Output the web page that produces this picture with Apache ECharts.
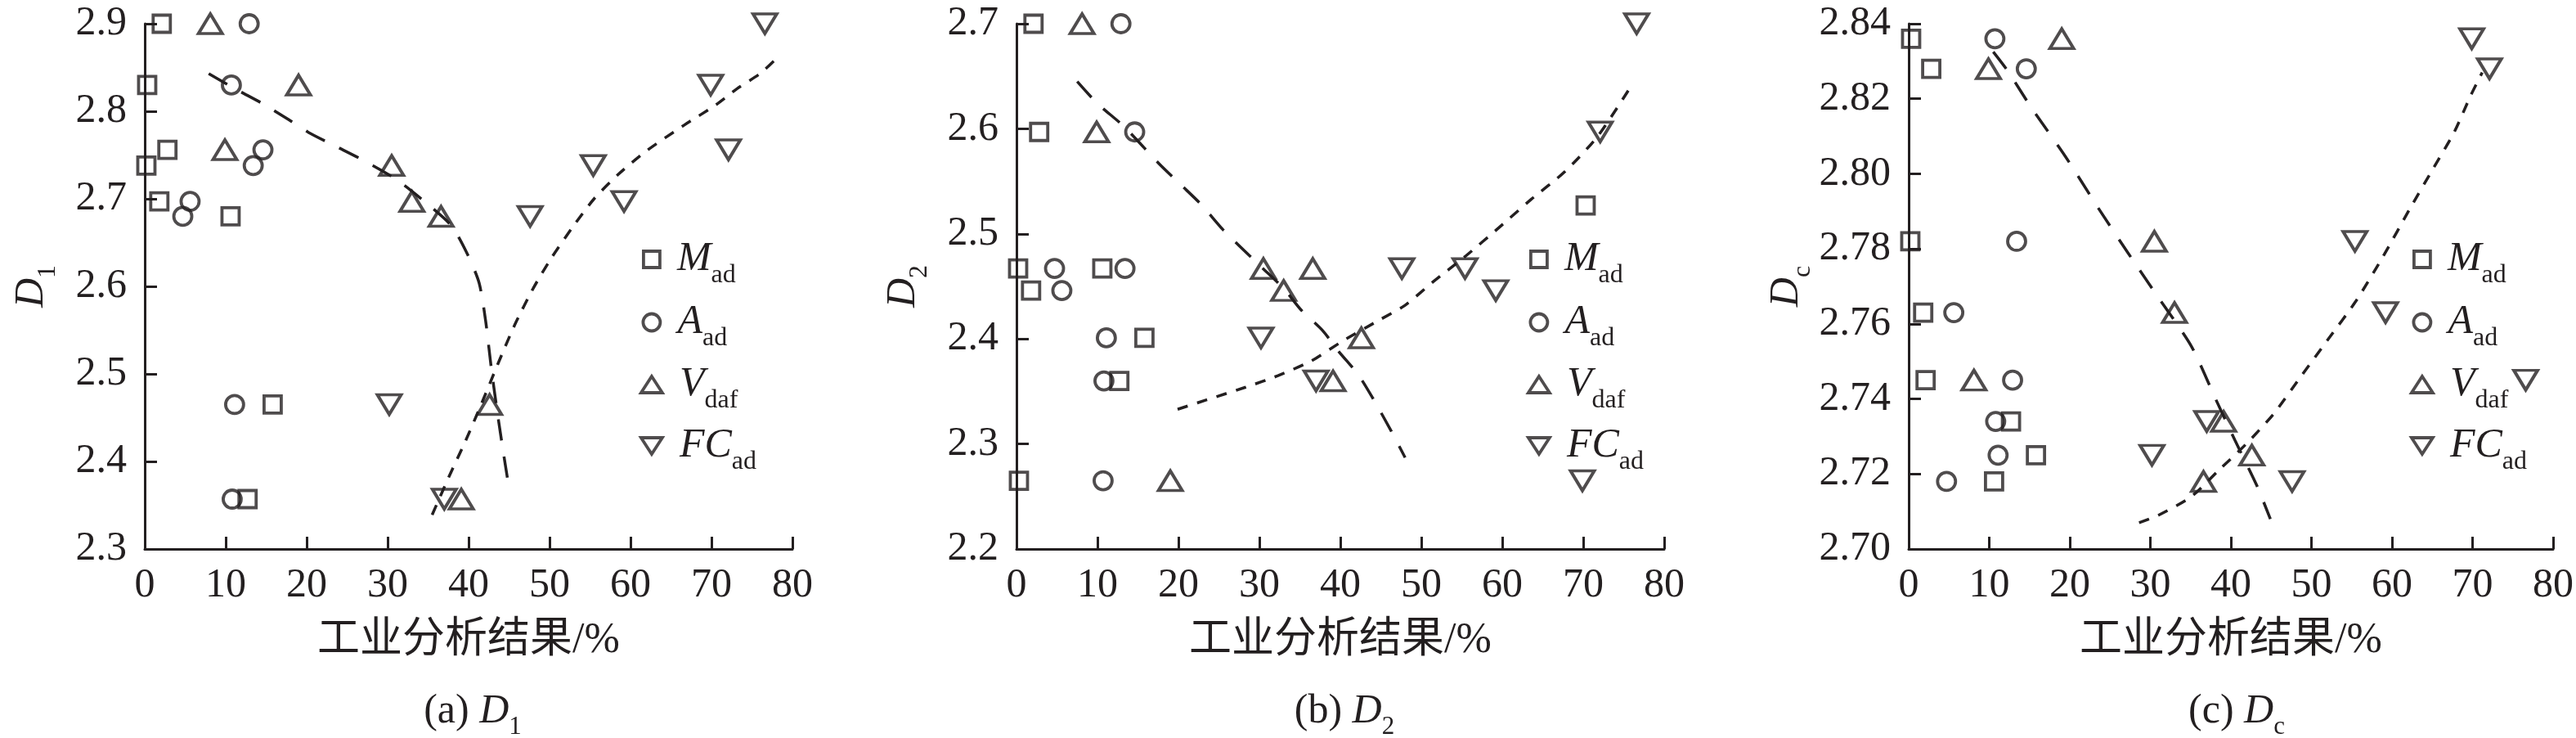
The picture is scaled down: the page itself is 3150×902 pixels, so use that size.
<!DOCTYPE html>
<html>
<head>
<meta charset="utf-8">
<title>D vs proximate analysis</title>
<script src="https://cdn.jsdelivr.net/npm/echarts@6/dist/echarts.min.js"></script>
<style>
  html, body { margin: 0; padding: 0; background: #fff; }
  #chart { width: 3150px; height: 902px; }
</style>
</head>
<body>
<div id="chart"></div>
<script>
// proximate analysis of the 8 coal samples (%)
const xMad  = [2.1, 0.3, 2.8, 0.2, 1.8, 10.6, 15.8, 12.7];
const xAad  = [12.9, 10.7, 14.6, 13.4, 5.6, 4.7, 11.1, 10.8];
const xVdaf = [8.1, 19.0, 9.9, 30.5, 33.0, 36.6, 42.6, 39.1];
const xFCad = [76.6, 69.9, 72.1, 55.4, 59.2, 47.6, 30.2, 37.0];

// fractal dimensions of the same samples
const D1 = [2.900, 2.830, 2.756, 2.738, 2.697, 2.680, 2.465, 2.357];
const D2 = [2.700, 2.265, 2.597, 2.467, 2.446, 2.467, 2.401, 2.360];
const Dc = [2.745, 2.836, 2.828, 2.782, 2.763, 2.718, 2.725, 2.734];

// stray square marker in panel (b)
const extraMadX = [70.3];
const extraMadD2 = [2.527];

// trend lines
const fitA_V_x  = [7.9, 11.3, 14.7, 17.5, 20.2, 23.6, 27.0, 31.1, 34.8, 37.9, 39.9, 41.3, 42.1, 42.8, 43.6, 44.3, 44.9];
const fitA_V_y  = [2.843, 2.825, 2.808, 2.792, 2.776, 2.760, 2.744, 2.722, 2.695, 2.669, 2.636, 2.604, 2.561, 2.507, 2.453, 2.410, 2.375];
const fitA_FC_x = [35.5, 37.5, 39.6, 41.6, 43.6, 45.7, 48.0, 50.2, 52.8, 55.5, 58.5, 62.0, 66.6, 70.5, 73.2, 76.0, 78.2];
const fitA_FC_y = [2.339, 2.381, 2.423, 2.466, 2.511, 2.556, 2.598, 2.632, 2.667, 2.700, 2.728, 2.755, 2.784, 2.807, 2.826, 2.843, 2.862];
const fitB_V_x  = [7.5, 10.0, 13.3, 17.7, 20.4, 22.8, 25.5, 27.6, 30.3, 33.0, 35.1, 37.8, 39.8, 42.2, 44.2, 46.3, 48.0];
const fitB_V_y  = [2.645, 2.624, 2.602, 2.566, 2.546, 2.528, 2.504, 2.488, 2.468, 2.448, 2.428, 2.408, 2.388, 2.366, 2.341, 2.312, 2.287];
const fitB_FC_x = [19.9, 23.5, 28.3, 32.3, 36.4, 40.5, 44.6, 48.0, 51.4, 55.5, 59.6, 63.6, 67.7, 71.8, 76.2];
const fitB_FC_y = [2.333, 2.342, 2.354, 2.365, 2.379, 2.399, 2.417, 2.432, 2.454, 2.479, 2.506, 2.533, 2.559, 2.593, 2.644];
const fitC_V_x  = [10.5, 12.3, 15.3, 19.4, 23.5, 27.2, 31.0, 35.1, 38.1, 40.5, 43.2, 44.9];
const fitC_V_y  = [2.8325, 2.8274, 2.8174, 2.8048, 2.791, 2.779, 2.767, 2.754, 2.740, 2.729, 2.717, 2.708];
const fitC_FC_x = [28.6, 31.0, 35.1, 38.5, 41.9, 45.3, 48.7, 52.1, 55.5, 58.9, 62.3, 65.0, 67.7, 69.8, 71.2];
const fitC_FC_y = [2.707, 2.709, 2.714, 2.721, 2.728, 2.736, 2.746, 2.756, 2.766, 2.778, 2.791, 2.801, 2.811, 2.821, 2.827];

const INK = '#231f20';
const FONT = "'Liberation Serif', 'Times New Roman', 'Noto Sans CJK SC', serif";
const zip = (xs, ys) => xs.map((x, i) => [x, ys[i]]);

const rich = {
  i: { fontStyle: 'italic', fontWeight: 'normal', fontSize: 50, fontFamily: FONT, color: INK },
  s: { fontWeight: 'normal', fontSize: 32, fontFamily: FONT, color: INK, padding: [40, 0, 0, 0] },
  t: { fontWeight: 'normal', fontSize: 50, fontFamily: FONT, color: INK }
};
const LINE_H = 72;

const panels = [
  { tag: 'a', sub: '1', y: D1, min: 2.3, max: 2.9, step: 0.1, digits: 1, left: 177,
    fitV: [fitA_V_x, fitA_V_y], fitFC: [fitA_FC_x, fitA_FC_y], legX: 795 },
  { tag: 'b', sub: '2', y: D2, min: 2.2, max: 2.7, step: 0.1, digits: 1, left: 1243,
    fitV: [fitB_V_x, fitB_V_y], fitFC: [fitB_FC_x, fitB_FC_y], legX: 1880 },
  { tag: 'c', sub: 'c', y: Dc, min: 2.70, max: 2.84, step: 0.02, digits: 2, left: 2334,
    fitV: [fitC_V_x, fitC_V_y], fitFC: [fitC_FC_x, fitC_FC_y], legX: 2960 }
];
const PW = 792, PT = 29, PH = 642;

const kinds = [
  { name: 'Mad',  label: '{i|M}{s|ad}',   xs: xMad,  symbol: 'rect',     size: 21,       lw: 20, lh: 20 },
  { name: 'Aad',  label: '{i|A}{s|ad}',   xs: xAad,  symbol: 'circle',   size: 22,       lw: 21, lh: 21 },
  { name: 'Vdaf', label: '{i|V}{s|daf}',  xs: xVdaf, symbol: 'triangle', size: [29, 24], lw: 26, lh: 20 },
  { name: 'FCad', label: '{i|FC}{s|ad}',  xs: xFCad, symbol: 'path://M0,0L20,0L10,17Z', size: [29, 24], lw: 26, lh: 20 }
];
const legendY = [328, 405, 481, 556];

const grid = [], xAxis = [], yAxis = [], series = [], legend = [], title = [];

panels.forEach((p, gi) => {
  grid.push({ left: p.left, top: PT, width: PW, height: PH, containLabel: false });
  xAxis.push({
    gridIndex: gi, type: 'value', min: 0, max: 80, interval: 10,
    name: '工业分析结果/%', nameLocation: 'middle', nameGap: 86,
    nameTextStyle: { fontSize: 52, fontFamily: FONT, color: INK },
    axisLine: { show: true, onZero: false, lineStyle: { color: INK, width: 3 } },
    axisTick: { show: true, inside: true, length: 15, lineStyle: { color: INK, width: 3 } },
    axisLabel: { fontSize: 50, fontFamily: FONT, color: INK, margin: 20 },
    splitLine: { show: false }
  });
  yAxis.push({
    gridIndex: gi, type: 'value', min: p.min, max: p.max, interval: p.step,
    name: '{i|D}{s|' + p.sub + '}', nameLocation: 'middle', nameRotate: 90, nameGap: 102,
    nameTextStyle: { rich: rich },
    axisLine: { show: true, onZero: false, lineStyle: { color: INK, width: 3 } },
    axisTick: { show: true, inside: true, length: 15, lineStyle: { color: INK, width: 3 } },
    axisLabel: {
      fontSize: 50, fontFamily: FONT, color: INK, margin: 22,
      formatter: v => v.toFixed(p.digits)
    },
    splitLine: { show: false }
  });

  // trend lines
  [[p.fitV, [26, 20]], [p.fitFC, [13, 12]]].forEach(([f, dash]) => {
    series.push({
      type: 'line', xAxisIndex: gi, yAxisIndex: gi, data: zip(f[0], f[1]),
      smooth: 0.25, symbol: 'none', silent: true, z: 1,
      lineStyle: { color: INK, width: 3.5, type: dash }
    });
  });

  kinds.forEach((k, ki) => {
    let data = zip(k.xs, p.y);
    if (p.tag === 'b' && k.name === 'Mad') data = data.concat(zip(extraMadX, extraMadD2));
    series.push({
      name: k.name, type: 'scatter', xAxisIndex: gi, yAxisIndex: gi, data: data,
      symbol: k.symbol, symbolSize: k.size, z: 3,
      itemStyle: { color: 'rgba(0,0,0,0)', borderColor: INK, borderWidth: 3.8 },
      emphasis: { disabled: true }
    });
    legend.push({
      data: [k.name], orient: 'vertical', selectedMode: false, padding: 0,
      left: p.legX - k.lw / 2, top: legendY[ki] - LINE_H / 2,
      itemWidth: k.lw, itemHeight: k.lh, symbolKeepAspect: false,
      itemStyle: { color: 'rgba(0,0,0,0)', borderColor: INK, borderWidth: 3.8 },
      formatter: () => k.label,
      textStyle: { rich: Object.assign({}, rich, { i: Object.assign({}, rich.i, { padding: [0, 0, 0, 16] }) }) }
    });
  });

  title.push({
    text: '{t|(' + p.tag + ') }{i|D}{s|' + p.sub + '}',
    left: p.left + PW / 2, top: 830, textAlign: 'center',
    textStyle: {
      fontWeight: 'normal',
      rich: Object.assign({}, rich, {
        s: Object.assign({}, rich.s, { fontSize: 31, padding: [38, 0, 0, 0] })
      })
    }
  });
});

const chart = echarts.init(document.getElementById('chart'), null, { renderer: 'canvas' });
chart.setOption({
  animation: false,
  backgroundColor: '#fff',
  title: title,
  legend: legend,
  grid: grid,
  xAxis: xAxis,
  yAxis: yAxis,
  series: series
});
</script>
</body>
</html>
